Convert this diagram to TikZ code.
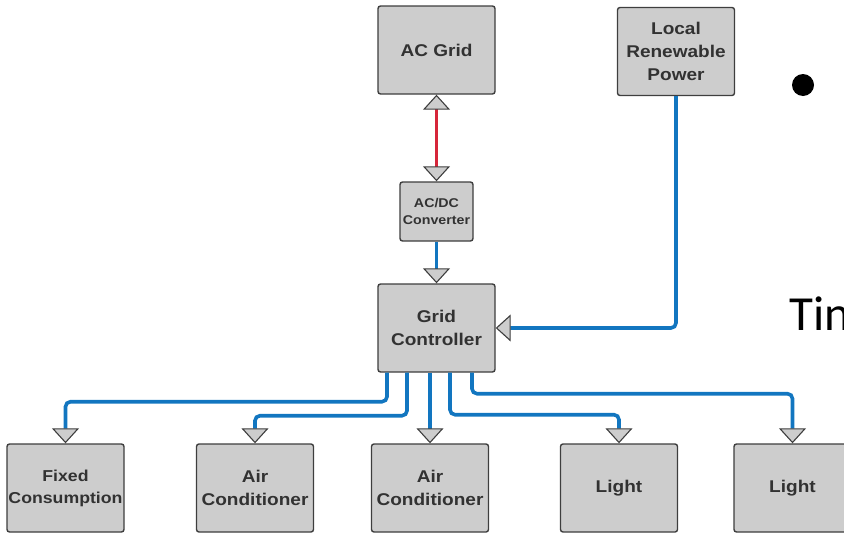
\documentclass[tikz,border=0pt]{standalone}
\usepackage{fontspec}
\setmainfont{Liberation Sans}[FakeStretch=1.12]
\newfontfamily\slidefont{Carlito}
\usetikzlibrary{arrows.meta}
\definecolor{boxgray}{RGB}{205,205,205}
\definecolor{edgegray}{RGB}{62,62,62}
\definecolor{txtgray}{RGB}{50,50,50}
\definecolor{dcblue}{RGB}{18,118,192}
\definecolor{acred}{RGB}{214,38,58}

\begin{document}
\begin{tikzpicture}[x=1pt, y=-1pt,
    blk/.style={rectangle, draw=edgegray, line width=1.4pt, fill=boxgray,
                rounded corners=2.5pt, minimum width=117pt, minimum height=88pt,
                inner sep=1pt, align=center, text=txtgray,
                font=\bfseries\fontsize{17}{23}\selectfont},
    small/.style={minimum width=73pt, minimum height=59pt,
                  font=\bfseries\fontsize{12.7}{17}\selectfont},
    >={Triangle[length=15pt, width=27pt, color=edgegray, fill=boxgray, line width=1.1pt]},
    dc/.style={draw=dcblue, line width=3.6pt, rounded corners=5pt},
    ac/.style={draw=acred, line width=3.6pt},
  ]
  \useasboundingbox (0,0) rectangle (844,533);
  \clip (0,0) rectangle (844,533);
  \node[blk] (acg) at (436.5,50) {AC Grid};
  \node[blk] (lrp) at (676,51.5) {Local\\Renewable\\Power};
  \node[blk, small] (conv) at (436.5,211.5) {AC/DC\\Converter};
  \node[blk] (gc) at (436.5,328) {Grid\\Controller};
  \node[blk, font=\bfseries\fontsize{15.8}{22}\selectfont] (fix) at (65.5,488) {Fixed\\Consumption};
  \node[blk] (ac1) at (255,488) {Air\\Conditioner};
  \node[blk] (ac2) at (430,488) {Air\\Conditioner};
  \node[blk] (lt1) at (619,488) {Light};
  \node[blk] (lt2) at (792.5,488) {Light};
  \node[circle, fill=black, minimum size=22pt, inner sep=0pt] (dot) at (803,85) {};
  \node[anchor=base west, inner sep=0pt, font=\slidefont\fontsize{49}{58}\selectfont] (tin) at (789,330) {Tin};
  \draw[ac, <->] (acg) -- (conv);
  \draw[dc, ->] (conv) -- (gc);
  \draw[dc, ->] (lrp.south) |- (gc.east);
  \draw[dc, ->] ([xshift=-49.5pt]gc.south) -- ++(0,29) -| (fix.north);
  \draw[dc, ->] ([xshift=-29.5pt]gc.south) -- ++(0,43) -| (ac1.north);
  \draw[dc, ->] (gc.south -| ac2.north) -- (ac2.north);
  \draw[dc, ->] ([xshift=13.5pt]gc.south) -- ++(0,42) -| (lt1.north);
  \draw[dc, ->] ([xshift=35.5pt]gc.south) -- ++(0,21) -| (lt2.north);
\end{tikzpicture}
\end{document}
